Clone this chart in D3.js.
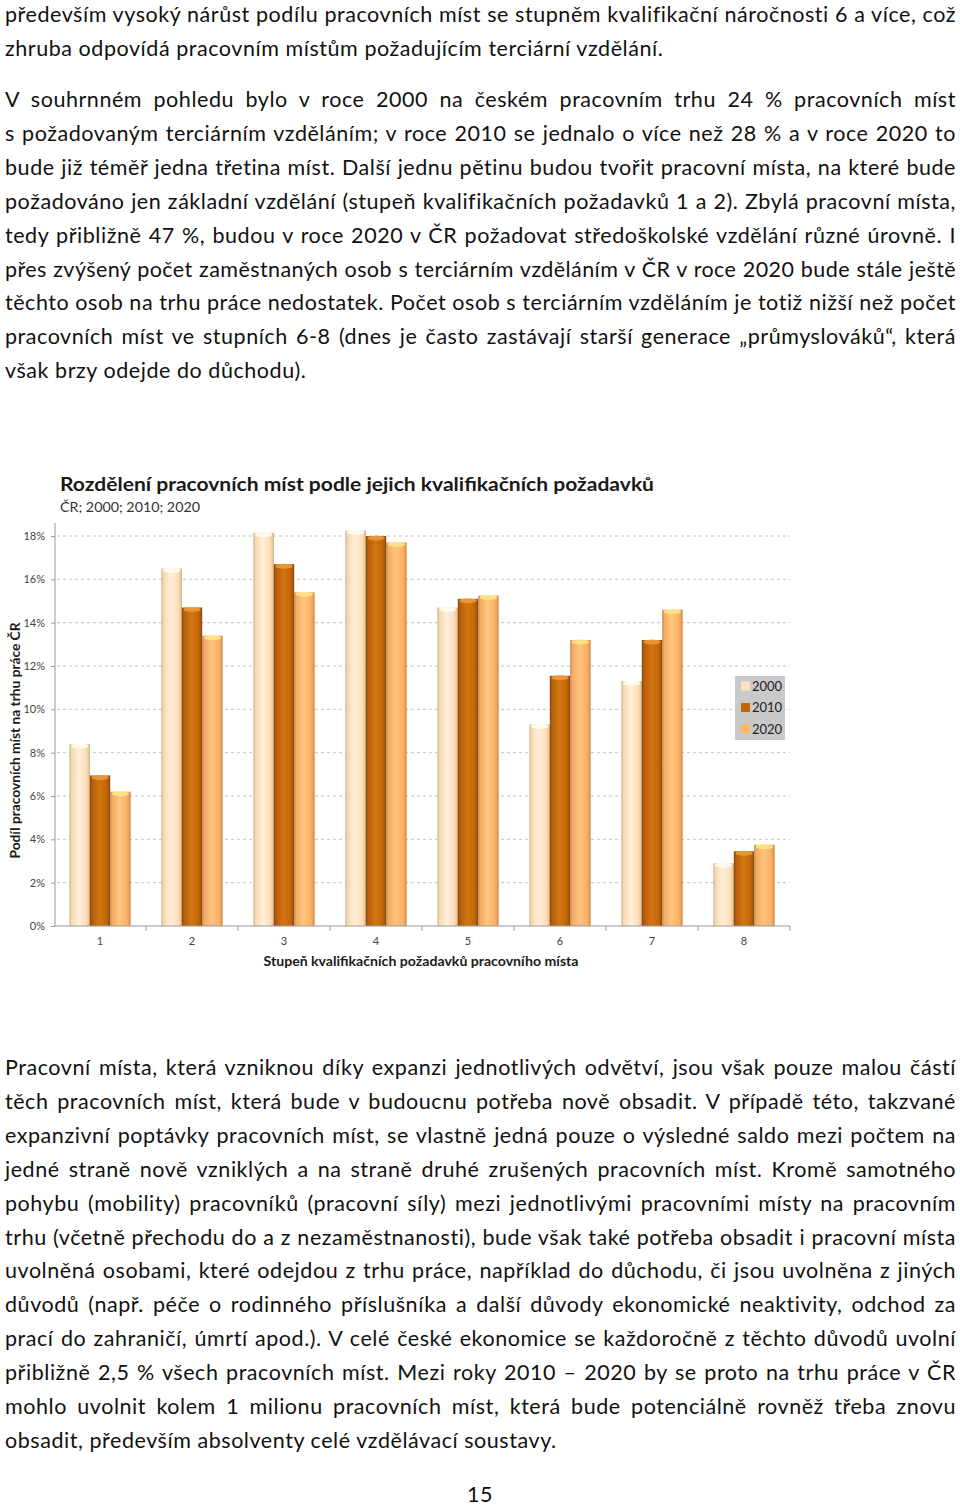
<!DOCTYPE html>
<html lang="cs">
<head>
<meta charset="utf-8">
<script src="https://cdn.jsdelivr.net/npm/d3@7"></script>
<style>
  body { margin: 0; background: #fff; }
  #page { position: relative; width: 960px; height: 1508px; overflow: hidden; font-family: Lato, "Open Sans", sans-serif; color: #111; }
  .para { position: absolute; left: 5px; width: 951px; font-size: 21.5px; letter-spacing: 0.55px; line-height: 33.9px; }
  .line { white-space: nowrap; text-align: left; }
  .line.j { text-align: justify; text-align-last: justify; }
  #chart { position: absolute; left: 0; top: 0; }
  #pagenum { position: absolute; left: 0; width: 960px; top: 1481px; text-align: center; font-size: 21.5px; letter-spacing: 0.55px; }
</style>
</head>
<body>
<div id="page">
  <svg id="chart" width="960" height="1508"></svg>
  <div id="pagenum">15</div>
</div>
<script>
// text of the page, line by line as in the original
const para1 = [
  "především vysoký nárůst podílu pracovních míst se stupněm kvalifikační náročnosti 6 a více, což",
  "zhruba odpovídá pracovním místům požadujícím terciární vzdělání."
];
const para2 = [
  "V souhrnném pohledu bylo v roce 2000 na českém pracovním trhu 24 % pracovních míst",
  "s požadovaným terciárním vzděláním; v roce 2010 se jednalo o více než 28 % a v roce 2020 to",
  "bude již téměř jedna třetina míst. Další jednu pětinu budou tvořit pracovní místa, na které bude",
  "požadováno jen základní vzdělání (stupeň kvalifikačních požadavků 1 a 2). Zbylá pracovní místa,",
  "tedy přibližně 47 %, budou v roce 2020 v ČR požadovat středoškolské vzdělání různé úrovně. I",
  "přes zvýšený počet zaměstnaných osob s terciárním vzděláním v ČR v roce 2020 bude stále ještě",
  "těchto osob na trhu práce nedostatek. Počet osob s terciárním vzděláním je totiž nižší než počet",
  "pracovních míst ve stupních 6-8 (dnes je často zastávají starší generace „průmyslováků“, která",
  "však brzy odejde do důchodu)."
];
const para3 = [
  "Pracovní místa, která vzniknou díky expanzi jednotlivých odvětví, jsou však pouze malou částí",
  "těch pracovních míst, která bude v budoucnu potřeba nově obsadit. V případě této, takzvané",
  "expanzivní poptávky pracovních míst, se vlastně jedná pouze o výsledné saldo mezi počtem na",
  "jedné straně nově vzniklých a na straně druhé zrušených pracovních míst. Kromě samotného",
  "pohybu (mobility) pracovníků (pracovní síly) mezi jednotlivými pracovními místy na pracovním",
  "trhu (včetně přechodu do a z nezaměstnanosti), bude však také potřeba obsadit i pracovní místa",
  "uvolněná osobami, které odejdou z trhu práce, například do důchodu, či jsou uvolněna z jiných",
  "důvodů (např. péče o rodinného příslušníka a další důvody ekonomické neaktivity, odchod za",
  "prací do zahraničí, úmrtí apod.). V celé české ekonomice se každoročně z těchto důvodů uvolní",
  "přibližně 2,5 % všech pracovních míst. Mezi roky 2010 – 2020 by se proto na trhu práce v ČR",
  "mohlo uvolnit kolem 1 milionu pracovních míst, která bude potenciálně rovněž třeba znovu",
  "obsadit, především absolventy celé vzdělávací soustavy."
];

// chart data
const categories = ["1", "2", "3", "4", "5", "6", "7", "8"];
const years = ["2000", "2010", "2020"];
const v2000 = [8.4, 16.5, 18.15, 18.25, 14.7, 9.3, 11.3, 2.9];
const v2010 = [6.95, 14.7, 16.7, 18.0, 15.1, 11.55, 13.2, 3.45];
const v2020 = [6.2, 13.4, 15.4, 17.7, 15.25, 13.2, 14.6, 3.75];
const yTicks = [0, 2, 4, 6, 8, 10, 12, 14, 16, 18];

const title = "Rozdělení pracovních míst podle jejich kvalifikačních požadavků";
const subtitle = "ČR; 2000; 2010; 2020";
const yTitle = "Podíl pracovních míst na trhu práce ČR";
const xTitle = "Stupeň kvalifikačních požadavků pracovního místa";

// paragraphs
function addPara(lines, top) {
  const p = d3.select("#page").append("div").attr("class", "para").style("top", top + "px");
  p.selectAll(".line").data(lines).join("div")
    .attr("class", (d, i) => i < lines.length - 1 ? "line j" : "line")
    .text(d => d);
}
addPara(para1, -2);
addPara(para2, 83);
addPara(para3, 1051);

// squeeze any line that is too long
d3.selectAll(".line").each(function() {
  if (this.scrollWidth > 951) {
    const over = this.scrollWidth - 951;
    this.style.letterSpacing = (0.55 - (over + 8) / this.textContent.length) + "px";
  }
});

// ---- chart ----
const svg = d3.select("#chart");
const left = 54, right = 790, bottom = 926;

const x = d3.scaleBand()
  .domain(categories)
  .range([left, right])
  .paddingInner(0.335)
  .paddingOuter(0.1675);

const xSub = d3.scaleBand()
  .domain(years)
  .range([0, x.bandwidth()]);

const y = d3.scaleLinear()
  .domain([0, 18])
  .range([bottom, 536]);

const table = categories.map((c, i) => ({
  cat: c,
  vals: [
    {year: "2000", v: v2000[i]},
    {year: "2010", v: v2010[i]},
    {year: "2020", v: v2020[i]}
  ]
}));

// gradients for the cylinder look
const grads = {
  "2000": [["0", "#cfae88"], ["0.1", "#f6d8ae"], ["0.45", "#ffeeda"], ["0.8", "#fde0ba"], ["0.93", "#f1cc9f"], ["1", "#c39e78"]],
  "2010": [["0", "#854510"], ["0.1", "#b55d0b"], ["0.45", "#d27510"], ["0.8", "#c56707"], ["0.93", "#a95609"], ["1", "#7a410f"]],
  "2020": [["0", "#bf8650"], ["0.1", "#f3ab60"], ["0.45", "#ffc47f"], ["0.8", "#fbb364"], ["0.93", "#eca052"], ["1", "#b47a45"]]
};
const capColor = {"2000": "#fffbf2", "2010": "#e99a3e", "2020": "#ffe484"};
const swatch = {"2000": "#fde3bf", "2010": "#c5650a", "2020": "#fdb766"};

const defs = svg.append("defs");
years.forEach(yr => {
  const g = defs.append("linearGradient").attr("id", "g" + yr)
    .attr("x1", "0").attr("x2", "1").attr("y1", "0").attr("y2", "0");
  grads[yr].forEach(s => g.append("stop").attr("offset", s[0]).attr("stop-color", s[1]));
});

// title
svg.append("text")
  .attr("x", 60).attr("y", 491)
  .attr("textLength", 594).attr("lengthAdjust", "spacingAndGlyphs")
  .style("font", "bold 18px Lato, sans-serif").style("fill", "#1a1a1a")
  .text(title);
svg.append("text")
  .attr("x", 60).attr("y", 512)
  .attr("textLength", 140).attr("lengthAdjust", "spacingAndGlyphs")
  .style("font", "14px Lato, sans-serif").style("fill", "#333")
  .text(subtitle);

// gridlines
svg.append("g")
  .selectAll("line")
  .data(yTicks.filter(d => d > 0))
  .join("line")
  .attr("x1", left + 3).attr("x2", right)
  .attr("y1", d => y(d)).attr("y2", d => y(d))
  .attr("stroke", "#c4c4c4").attr("stroke-dasharray", "3,3");

// y axis
const yAxis = d3.axisLeft(y)
  .tickValues(yTicks)
  .tickFormat(d => d + "%")
  .tickSize(4)
  .tickPadding(6);

const yG = svg.append("g")
  .attr("transform", `translate(${left + 1},0)`)
  .call(yAxis);
yG.select(".domain").remove();
yG.selectAll(".tick line").attr("stroke", "#9a9a9a");
yG.selectAll(".tick text").style("font", "11px Lato, sans-serif").style("fill", "#444");
yG.append("line")
  .attr("x1", 0).attr("x2", 0).attr("y1", 523).attr("y2", bottom)
  .attr("stroke", "#9a9a9a");

// bars
const groups = svg.append("g")
  .selectAll("g")
  .data(table)
  .join("g")
  .attr("transform", d => `translate(${x(d.cat)},0)`);

groups.selectAll("rect")
  .data(d => d.vals)
  .join("rect")
  .attr("x", d => xSub(d.year))
  .attr("y", d => y(d.v))
  .attr("width", xSub.bandwidth())
  .attr("height", d => bottom - y(d.v))
  .attr("fill", d => `url(#g${d.year})`);

groups.selectAll("ellipse")
  .data(d => d.vals)
  .join("ellipse")
  .attr("cx", d => xSub(d.year) + xSub.bandwidth() / 2)
  .attr("cy", d => y(d.v) + 2)
  .attr("rx", xSub.bandwidth() / 2 - 1.5)
  .attr("ry", 2.5)
  .attr("fill", d => capColor[d.year])
  .attr("opacity", 0.9);

// x axis
svg.append("line")
  .attr("x1", left).attr("x2", right).attr("y1", bottom).attr("y2", bottom)
  .attr("stroke", "#9a9a9a");

svg.append("g")
  .selectAll("line")
  .data(categories)
  .join("line")
  .attr("x1", d => x(d) + x.bandwidth() + x.step() * x.paddingInner() / 2)
  .attr("x2", d => x(d) + x.bandwidth() + x.step() * x.paddingInner() / 2)
  .attr("y1", bottom).attr("y2", bottom + 5)
  .attr("stroke", "#9a9a9a");

const xAxis = d3.axisBottom(x).tickSize(0).tickPadding(11);
const xG = svg.append("g")
  .attr("transform", `translate(0,${bottom})`)
  .call(xAxis);
xG.select(".domain").remove();
xG.selectAll(".tick text").style("font", "11px Lato, sans-serif").style("fill", "#444");

// axis titles
svg.append("text")
  .attr("transform", "translate(20,740.5) rotate(-90)")
  .attr("text-anchor", "middle")
  .attr("textLength", 236).attr("lengthAdjust", "spacingAndGlyphs")
  .style("font", "bold 13px Lato, sans-serif").style("fill", "#1a1a1a")
  .text(yTitle);

svg.append("text")
  .attr("x", 421).attr("y", 966)
  .attr("text-anchor", "middle")
  .attr("textLength", 315).attr("lengthAdjust", "spacingAndGlyphs")
  .style("font", "bold 13px Lato, sans-serif").style("fill", "#1a1a1a")
  .text(xTitle);

// legend
const legend = svg.append("g").attr("transform", "translate(735,676)");
legend.append("rect").attr("width", 50).attr("height", 64).attr("fill", "#c9c9c9");
const items = legend.selectAll("g")
  .data(years)
  .join("g")
  .attr("transform", (d, i) => `translate(6,${10 + i * 21.5})`);
items.append("rect")
  .attr("x", 0).attr("y", -4.5).attr("width", 9).attr("height", 9)
  .attr("fill", d => swatch[d]);
items.append("text")
  .attr("x", 11).attr("y", 4.5)
  .style("font", "13px Lato, sans-serif").style("fill", "#222")
  .text(d => d);
</script>
</body>
</html>
